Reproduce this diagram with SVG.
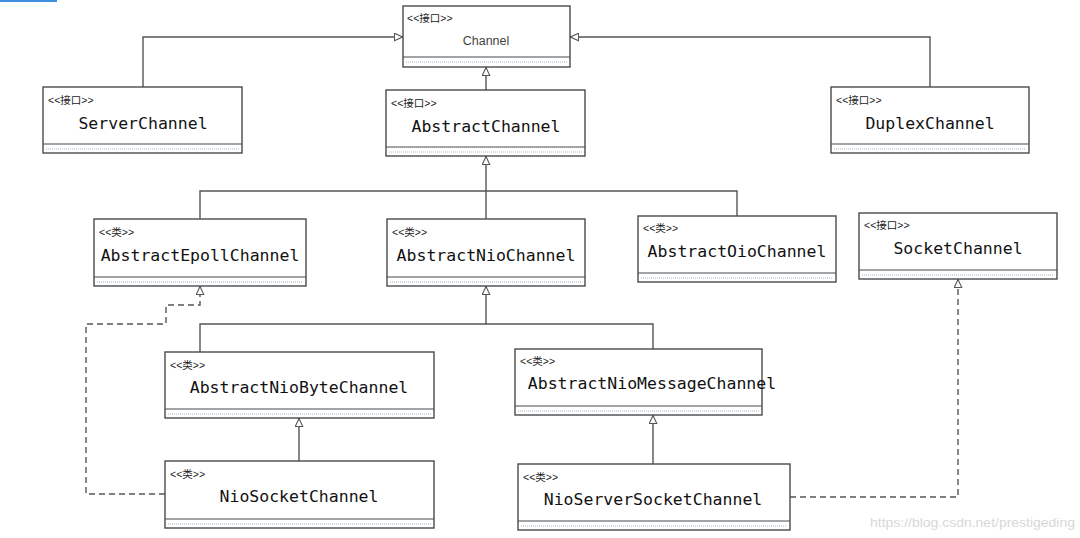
<svg xmlns="http://www.w3.org/2000/svg" width="1080" height="538" viewBox="0 0 1080 538">
<style>
.box{fill:#fff;stroke:#4a4a4a;stroke-width:1.4}
.div{stroke:#4a4a4a;stroke-width:1.2}
.dot{stroke:#9fb4c4;stroke-width:1;stroke-dasharray:1,1}
.st{font-family:"Liberation Sans","Noto Sans CJK SC",sans-serif;font-size:10.5px;fill:#222}
.nm{font-family:"DejaVu Sans Mono","Liberation Mono",monospace;font-size:16.5px;fill:#111;text-anchor:middle}
.ch{font-family:"Liberation Sans",sans-serif;font-size:12.5px;fill:#444;text-anchor:middle}
.ln{fill:none;stroke:#555;stroke-width:1.4}
.dash{fill:none;stroke:#555;stroke-width:1.4;stroke-dasharray:6,4}
</style>
<defs>
<marker id="tri" viewBox="0 0 10 10" refX="10" refY="5" markerWidth="9" markerHeight="9" markerUnits="userSpaceOnUse" orient="auto">
<path d="M0.5,0.8 L9.5,5 L0.5,9.2 z" fill="#fff" stroke="#555" stroke-width="1.2"/>
</marker>
</defs>
<rect x="0" y="0" width="57" height="2" fill="#3d8fe0"/>
<g id="connectors">
<path class="ln" d="M143,87 V37 H403" marker-end="url(#tri)"/>
<path class="ln" d="M930,87 V37 H570" marker-end="url(#tri)"/>
<path class="ln" d="M486,90 V67" marker-end="url(#tri)"/>
<path class="ln" d="M200,219 V191 H737 V216"/>
<path class="ln" d="M486,219 V156" marker-end="url(#tri)"/>
<path class="ln" d="M200,352 V324 H653 V349"/>
<path class="ln" d="M486,324 V286" marker-end="url(#tri)"/>
<path class="ln" d="M299,461 V418" marker-end="url(#tri)"/>
<path class="ln" d="M653,464 V415" marker-end="url(#tri)"/>
<path class="dash" d="M165,494 H86 V324 H166 V305 H200 V286" marker-end="url(#tri)"/>
<path class="dash" d="M790,497 H958 V279" marker-end="url(#tri)"/>
</g>
<g id="Channel">
<rect class="box" x="403" y="6" width="167" height="61"/>
<line class="div" x1="403" y1="57" x2="570" y2="57"/>
<line class="dot" x1="406" y1="62" x2="567" y2="62"/>
<text class="st" x="407" y="22">&lt;&lt;接口&gt;&gt;</text>
<text class="ch" x="486" y="45">Channel</text>
</g>
<g id="ServerChannel">
<rect class="box" x="43" y="87" width="199" height="66"/>
<line class="div" x1="43" y1="144" x2="242" y2="144"/>
<line class="dot" x1="46" y1="149" x2="239" y2="149"/>
<text class="st" x="48" y="104">&lt;&lt;接口&gt;&gt;</text>
<text class="nm" x="143" y="129">ServerChannel</text>
</g>
<g id="AbstractChannel">
<rect class="box" x="386" y="90" width="199" height="66"/>
<line class="div" x1="386" y1="147" x2="585" y2="147"/>
<line class="dot" x1="389" y1="152" x2="582" y2="152"/>
<text class="st" x="391" y="107">&lt;&lt;接口&gt;&gt;</text>
<text class="nm" x="486" y="132">AbstractChannel</text>
</g>
<g id="DuplexChannel">
<rect class="box" x="831" y="87" width="198" height="66"/>
<line class="div" x1="831" y1="144" x2="1029" y2="144"/>
<line class="dot" x1="834" y1="149" x2="1026" y2="149"/>
<text class="st" x="836" y="104">&lt;&lt;接口&gt;&gt;</text>
<text class="nm" x="930" y="129">DuplexChannel</text>
</g>
<g id="AbstractEpollChannel">
<rect class="box" x="94" y="219" width="212" height="67"/>
<line class="div" x1="94" y1="277" x2="306" y2="277"/>
<line class="dot" x1="97" y1="282" x2="303" y2="282"/>
<text class="st" x="99" y="236">&lt;&lt;类&gt;&gt;</text>
<text class="nm" x="200" y="261">AbstractEpollChannel</text>
</g>
<g id="AbstractNioChannel">
<rect class="box" x="387" y="219" width="198" height="67"/>
<line class="div" x1="387" y1="277" x2="585" y2="277"/>
<line class="dot" x1="390" y1="282" x2="582" y2="282"/>
<text class="st" x="392" y="236">&lt;&lt;类&gt;&gt;</text>
<text class="nm" x="486" y="261">AbstractNioChannel</text>
</g>
<g id="AbstractOioChannel">
<rect class="box" x="638" y="216" width="198" height="66"/>
<line class="div" x1="638" y1="273" x2="836" y2="273"/>
<line class="dot" x1="641" y1="278" x2="833" y2="278"/>
<text class="st" x="643" y="232">&lt;&lt;类&gt;&gt;</text>
<text class="nm" x="737" y="257">AbstractOioChannel</text>
</g>
<g id="SocketChannel">
<rect class="box" x="859" y="213" width="198" height="66"/>
<line class="div" x1="859" y1="270" x2="1057" y2="270"/>
<line class="dot" x1="862" y1="275" x2="1054" y2="275"/>
<text class="st" x="864" y="229">&lt;&lt;接口&gt;&gt;</text>
<text class="nm" x="958" y="254">SocketChannel</text>
</g>
<g id="AbstractNioByteChannel">
<rect class="box" x="165" y="352" width="269" height="66"/>
<line class="div" x1="165" y1="409" x2="434" y2="409"/>
<line class="dot" x1="168" y1="414" x2="431" y2="414"/>
<text class="st" x="170" y="369">&lt;&lt;类&gt;&gt;</text>
<text class="nm" x="299" y="393">AbstractNioByteChannel</text>
</g>
<g id="AbstractNioMessageChannel">
<rect class="box" x="515" y="349" width="247" height="66"/>
<line class="div" x1="515" y1="406" x2="762" y2="406"/>
<line class="dot" x1="518" y1="411" x2="759" y2="411"/>
<text class="st" x="520" y="365">&lt;&lt;类&gt;&gt;</text>
<text class="nm" x="652" y="389">AbstractNioMessageChannel</text>
</g>
<g id="NioSocketChannel">
<rect class="box" x="165" y="461" width="269" height="67"/>
<line class="div" x1="165" y1="519" x2="434" y2="519"/>
<line class="dot" x1="168" y1="524" x2="431" y2="524"/>
<text class="st" x="170" y="478">&lt;&lt;类&gt;&gt;</text>
<text class="nm" x="299" y="502">NioSocketChannel</text>
</g>
<g id="NioServerSocketChannel">
<rect class="box" x="518" y="464" width="272" height="66"/>
<line class="div" x1="518" y1="521" x2="790" y2="521"/>
<line class="dot" x1="521" y1="526" x2="787" y2="526"/>
<text class="st" x="523" y="481">&lt;&lt;类&gt;&gt;</text>
<text class="nm" x="653" y="505">NioServerSocketChannel</text>
</g>
<text x="870" y="527" font-family="Liberation Sans, sans-serif" font-size="13" fill="#d8d8d8" textLength="205" lengthAdjust="spacingAndGlyphs">https://blog.csdn.net/prestigeding</text>
</svg>
